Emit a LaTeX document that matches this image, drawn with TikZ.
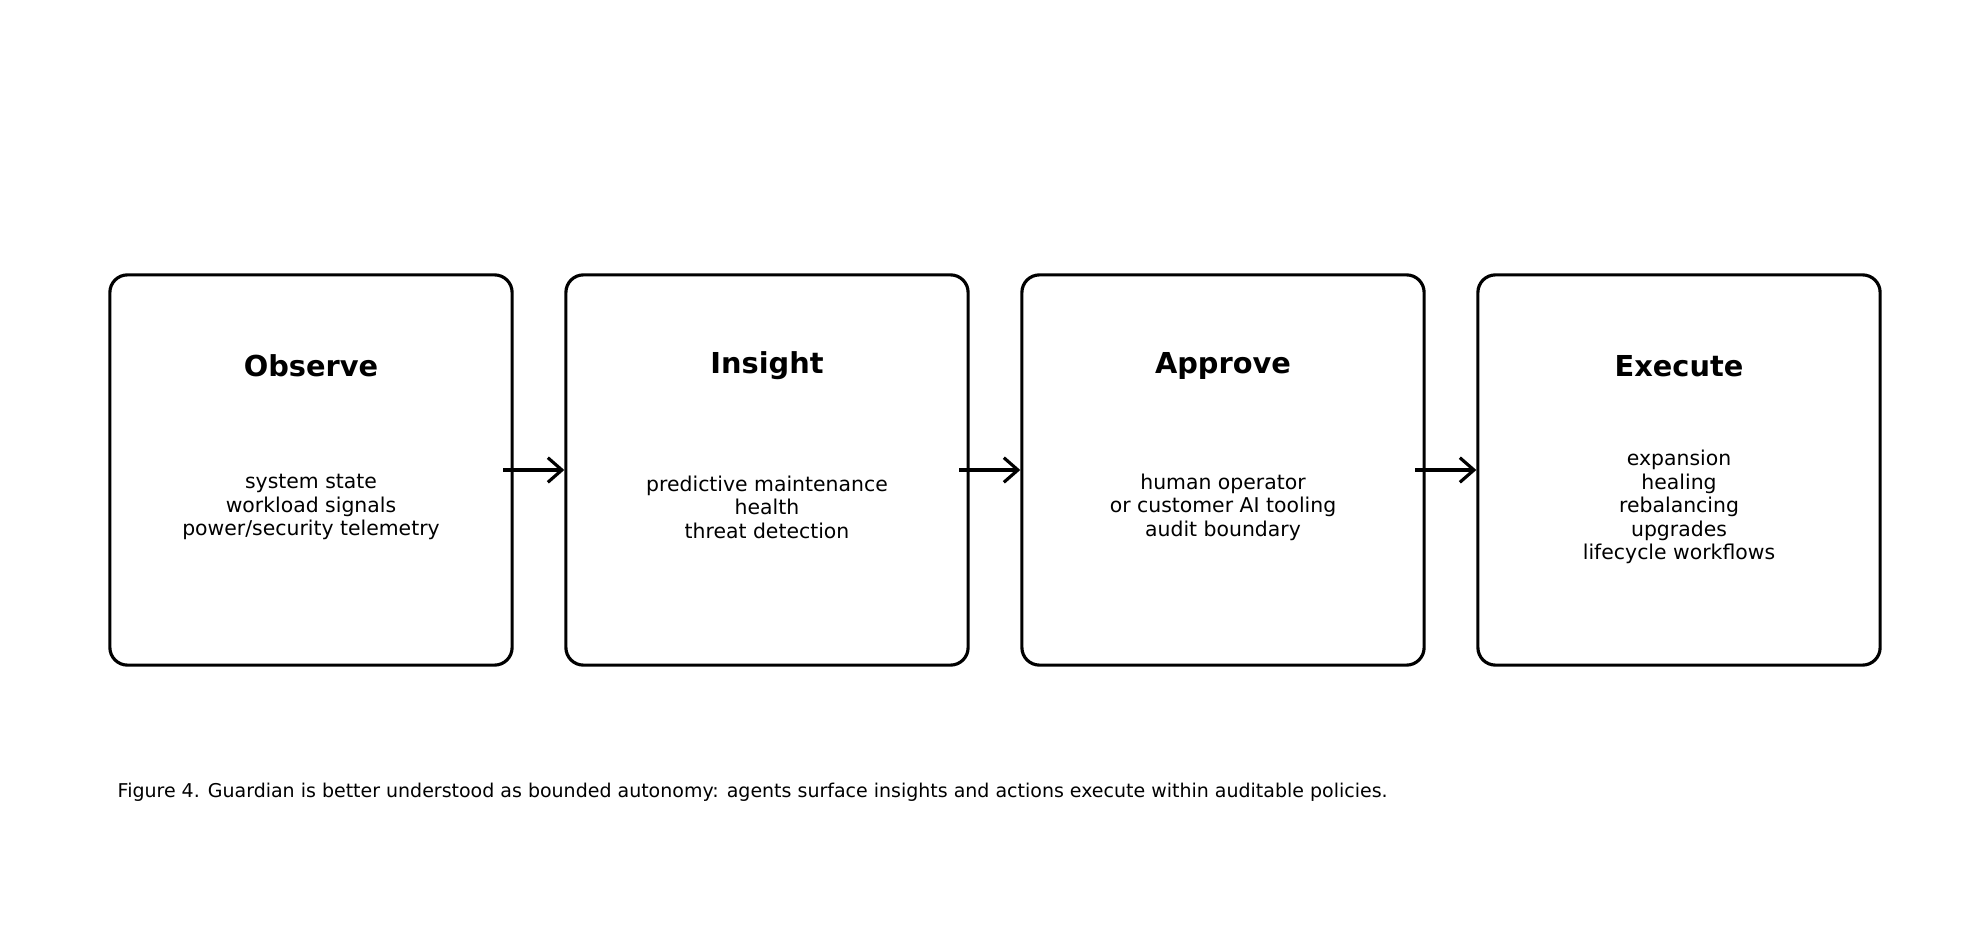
\documentclass[tikz,border=0pt]{standalone}
\usepackage{fontspec}
\setmainfont{DejaVu Sans}
\begin{document}
\begin{tikzpicture}[x=0.01cm,y=-0.01cm,
  box/.style={draw,line width=0.9pt,rounded corners=5pt,minimum width=4.02cm,minimum height=3.9cm,inner sep=0pt},
  ttl/.style={font=\fontsize{8.2}{10}\selectfont\bfseries},
  body/.style={font=\fontsize{5.8}{6.7}\selectfont,align=center},
  arr/.style={->,line width=0.9pt,>={Straight Barb[length=4pt,width=7pt]}}]
\usetikzlibrary{arrows.meta}
\useasboundingbox (0,0) rectangle (1979,940);
\node[box] (o) at (311,470) {};
\node[box] (i) at (767,470) {};
\node[box] (a) at (1223,470) {};
\node[box] (e) at (1679,470) {};
\node[ttl] (ot) at (311,366) {Observe};
\node[ttl] (it) at (767,366) {Insight};
\node[ttl] (at) at (1223,366) {Approve};
\node[ttl] (et) at (1679,366) {Execute};
\node[body] (ob) at (311,507) {system state\\workload signals\\power/security telemetry};
\node[body] (ib) at (767,507) {predictive maintenance\\health\\threat detection};
\node[body] (ab) at (1223,507) {human operator\\or customer AI tooling\\audit boundary};
\node[body] (eb) at (1679,507) {expansion\\healing\\rebalancing\\upgrades\\lifecycle workflows};
\draw[arr] ([xshift=-3]o.east) -- (i.west);
\draw[arr] ([xshift=-3]i.east) -- (a.west);
\draw[arr] ([xshift=-3]a.east) -- (e.west);
\node[anchor=west,font=\fontsize{5.4}{6.5}\selectfont,inner sep=0pt] (cap) at (117,792) {Figure 4. Guardian is better understood as bounded autonomy: agents surface insights and actions execute within auditable policies.};
\end{tikzpicture}
\end{document}
